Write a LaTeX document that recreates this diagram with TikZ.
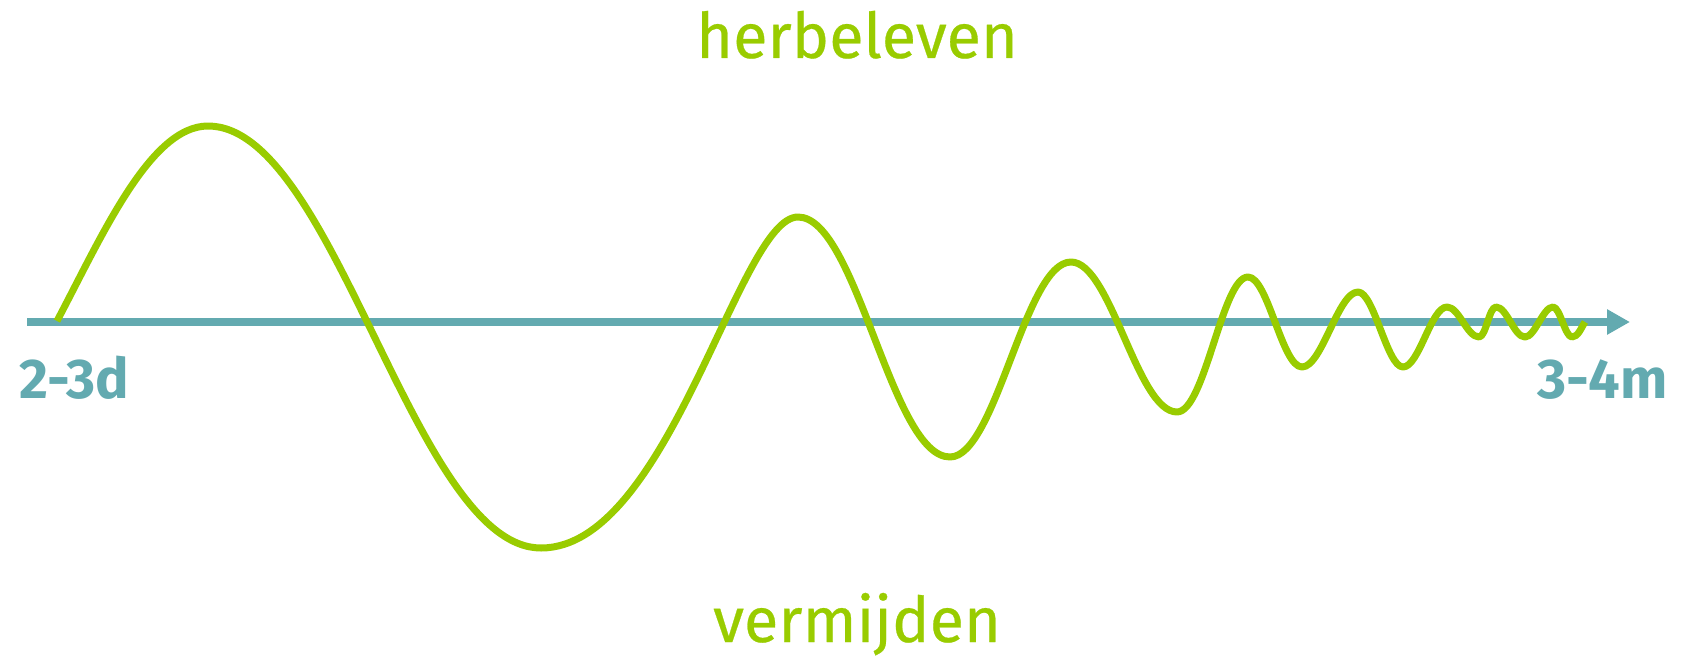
\documentclass[tikz,border=0pt]{standalone}
\usepackage{fontspec}
\setmainfont{Fira Sans}
\newfontfamily\wordfont{Fira Sans}[RawFeature={embolden=0.4}]
\usetikzlibrary{arrows.meta}
\definecolor{wvgreen}{HTML}{99CC00}
\definecolor{wvteal}{HTML}{63AAB0}

\begin{document}
\begin{tikzpicture}[x=1pt, y=-1pt,
    axisline/.style={wvteal, line width=7.5pt},
    wave/.style={wvgreen, line width=7pt, line join=round},
    wordlbl/.style={wvgreen, inner sep=0pt, anchor=base, font=\wordfont\fontsize{63}{76}\selectfont},
    endlbl/.style={wvteal, inner sep=0pt, font=\bfseries\fontsize{56}{67}\selectfont}]
  \useasboundingbox (0,0) rectangle (1681,658);
  \coordinate (axstart) at (27,322);
  \coordinate (axend) at (1630,322);
  \draw[axisline, -{Triangle[length=23pt,width=24pt]}] (axstart) -- (axend);
  % wave, dying out to the right
  \draw[wave] (57,321)
    .. controls (102,236) and (150,126) .. (208,126)
    .. controls (335,126) and (414,548) .. (541,548)
    .. controls (669,548) and (739,217) .. (798,217)
    .. controls (857,217) and (891,457) .. (950,457)
    .. controls (996,457) and (1025,262) .. (1071,262)
    .. controls (1111,262) and (1137,412) .. (1177,412)
    .. controls (1205,412) and (1222,277) .. (1248,277)
    .. controls (1268,277) and (1282,367) .. (1302,367)
    .. controls (1322,367) and (1338,292) .. (1358,292)
    .. controls (1374,292) and (1387,367) .. (1403,367)
    .. controls (1419,367) and (1431,307) .. (1447,307)
    .. controls (1459,307) and (1467,337) .. (1479,337)
    .. controls (1486,337) and (1489,307) .. (1496,307)
    .. controls (1507,307) and (1514,337) .. (1525,337)
    .. controls (1535,337) and (1543,307) .. (1553,307)
    .. controls (1560,307) and (1565,337) .. (1572,337)
    .. controls (1578,337) and (1581,328) .. (1585,322);
  \node[wordlbl] (top) at (857,58) {herbeleven};
  \node[wordlbl] (bottom) at (857,642) {vermijden};
  \node[endlbl, anchor=base west] (from) at (19,398) {2-3d};
  \node[endlbl, anchor=base east] (to) at (1668,398) {3-4m};
\end{tikzpicture}
\end{document}
